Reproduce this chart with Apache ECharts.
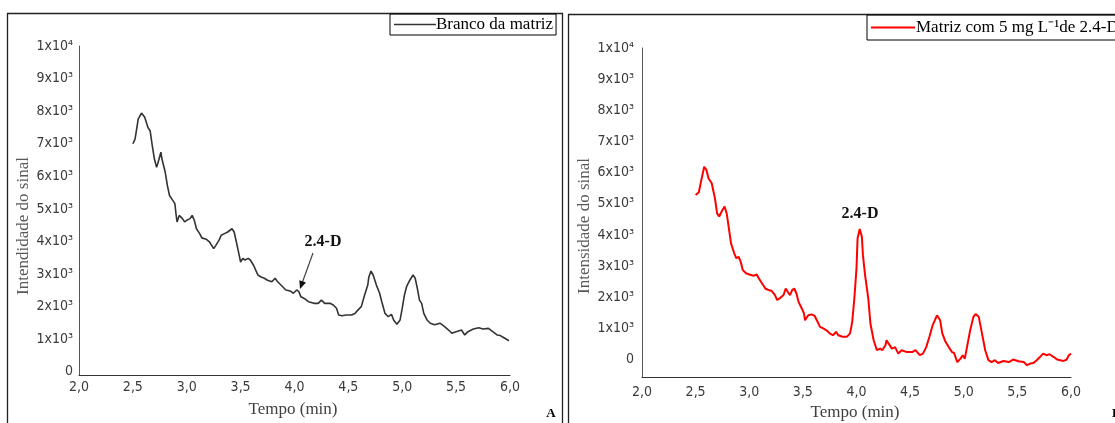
<!DOCTYPE html>
<html lang="pt">
<head>
    <meta charset="UTF-8">
    <title>Cromatogramas 2.4-D</title>
    <script src="https://cdn.jsdelivr.net/npm/echarts@6/dist/echarts.min.js"></script>
    <style>
        html, body { margin: 0; padding: 0; background: #fff; }
        #main { width: 1115px; height: 423px; }
    </style>
</head>
<body>
<div id="main"></div>
<script type="text/javascript">

    // eixo x (min) e rótulos do eixo y
    var xTicks = [2.0, 2.5, 3.0, 3.5, 4.0, 4.5, 5.0, 5.5, 6.0];
    var yTicks = [0, 1000, 2000, 3000, 4000, 5000, 6000, 7000, 8000, 9000, 10000];

    // A - Branco da matriz
    var tempoA = [2.50, 2.52, 2.55, 2.58, 2.61, 2.64, 2.66, 2.68, 2.70, 2.72, 2.73, 2.76, 2.77, 2.80, 2.82, 2.84,
        2.87, 2.89, 2.90, 2.91, 2.93, 2.96, 2.98, 3.00, 3.03, 3.05, 3.07, 3.09, 3.12, 3.14, 3.18, 3.21, 3.25, 3.27,
        3.30, 3.32, 3.35, 3.38, 3.42, 3.44, 3.46, 3.48, 3.50, 3.52, 3.54, 3.57, 3.59, 3.62, 3.64, 3.66, 3.69, 3.72,
        3.75, 3.79, 3.82, 3.84, 3.86, 3.89, 3.92, 3.96, 3.99, 4.02, 4.04, 4.06, 4.09, 4.13, 4.18, 4.22, 4.25, 4.28,
        4.33, 4.36, 4.39, 4.41, 4.44, 4.48, 4.53, 4.56, 4.59, 4.62, 4.65, 4.68, 4.69, 4.71, 4.73, 4.76, 4.79, 4.81,
        4.84, 4.87, 4.90, 4.92, 4.95, 4.98, 5.00, 5.02, 5.04, 5.07, 5.10, 5.12, 5.14, 5.16, 5.18, 5.20, 5.23, 5.26,
        5.30, 5.35, 5.39, 5.43, 5.46, 5.50, 5.55, 5.58, 5.61, 5.66, 5.71, 5.75, 5.80, 5.84, 5.88, 5.91, 5.94, 5.99];
    var sinalA = [7000, 7140, 7760, 7940, 7810, 7500, 7400, 6940, 6530, 6280, 6380, 6740, 6530, 6130, 5720, 5410,
        5260, 5160, 4850, 4600, 4800, 4700, 4600, 4650, 4700, 4800, 4650, 4390, 4240, 4110, 4070, 3990, 3780, 3880,
        4040, 4190, 4240, 4290, 4390, 4290, 3990, 3680, 3370, 3480, 3430, 3480, 3430, 3270, 3120, 2970, 2910, 2870,
        2810, 2760, 2870, 2780, 2710, 2610, 2510, 2480, 2410, 2510, 2460, 2300, 2250, 2150, 2100, 2100, 2200, 2100,
        2100, 2050, 1950, 1740, 1720, 1740, 1740, 1790, 1900, 2000, 2350, 2660, 2910, 3090, 2970, 2660, 2410, 2150,
        1790, 1690, 1760, 1590, 1460, 1590, 1950, 2350, 2610, 2810, 2970, 2870, 2560, 2200, 2100, 1790, 1590, 1490,
        1440, 1490, 1390, 1280, 1180, 1230, 1280, 1130, 1230, 1310, 1350, 1310, 1330, 1230, 1130, 1110, 1050, 950];

    // B - Matriz com 5 mg/L de 2.4-D
    var tempoB = [2.50, 2.53, 2.55, 2.58, 2.60, 2.62, 2.65, 2.68, 2.70, 2.72, 2.75, 2.77, 2.79, 2.81, 2.83, 2.86,
        2.88, 2.90, 2.92, 2.94, 2.97, 3.00, 3.04, 3.07, 3.09, 3.12, 3.15, 3.18, 3.21, 3.24, 3.26, 3.29, 3.32, 3.34,
        3.36, 3.38, 3.40, 3.42, 3.44, 3.46, 3.49, 3.51, 3.52, 3.55, 3.58, 3.61, 3.63, 3.66, 3.69, 3.72, 3.75, 3.78,
        3.81, 3.83, 3.87, 3.91, 3.94, 3.96, 3.98, 4.00, 4.01, 4.03, 4.05, 4.06, 4.08, 4.11, 4.13, 4.16, 4.19, 4.22,
        4.24, 4.27, 4.28, 4.30, 4.33, 4.36, 4.39, 4.42, 4.47, 4.52, 4.55, 4.59, 4.62, 4.65, 4.68, 4.71, 4.75, 4.78,
        4.80, 4.83, 4.86, 4.89, 4.91, 4.94, 4.97, 4.99, 5.01, 5.03, 5.06, 5.09, 5.11, 5.14, 5.17, 5.20, 5.23, 5.26,
        5.29, 5.32, 5.37, 5.42, 5.46, 5.51, 5.56, 5.59, 5.62, 5.65, 5.68, 5.71, 5.74, 5.77, 5.80, 5.84, 5.87, 5.90,
        5.93, 5.96, 5.98, 6.00];
    var sinalB = [5280, 5370, 5710, 6190, 6090, 5820, 5660, 5180, 4690, 4590, 4800, 4910, 4690, 4210, 3730, 3410,
        3250, 3300, 3140, 2870, 2770, 2730, 2690, 2730, 2600, 2440, 2280, 2230, 2200, 2070, 1910, 1980, 2070, 2280,
        2170, 2070, 2230, 2280, 2120, 1850, 1640, 1480, 1260, 1420, 1450, 1400, 1260, 1050, 1000, 940, 840, 780,
        890, 780, 730, 730, 840, 1210, 1960, 2930, 3890, 4190, 3940, 3350, 2710, 1960, 1150, 620, 300, 350,
        300, 460, 620, 510, 350, 400, 190, 300, 240, 240, 300, 140, 190, 400, 730, 1100, 1420, 1260,
        840, 570, 400, 240, 210, -80, 30, 140, 30, 400, 940, 1370, 1460, 1370, 840, 300, -20, -80,
        -20, -110, -45, -80, 0, -55, -80, -180, -130, -110, -20, 80, 190, 140, 170, 80, 0, -20,
        -45, 0, 140, 190];

    function pares(t, v) {
        return t.map(function (x, i) { return [x, v[i]]; });
    }

    var supDigits = { 3: '\u00b3', 4: '\u2074' };
    function yLabel(v) {
        if (v === 0) return '0';
        if (v >= 10000) return '1x10' + supDigits[4];
        return (v / 1000) + 'x10' + supDigits[3];
    }
    function xLabel(v) {
        return v.toFixed(1).replace('.', ',');
    }

    var tickFont = { fontFamily: 'DejaVu Sans Condensed', fontSize: 14, color: '#3a3a3a' };
    var serif = 'Liberation Serif';

    function xAxisCfg(gi, margin) {
        return {
            type: 'value', gridIndex: gi, min: 2, max: 6, interval: 0.5,
            axisLine: { onZero: false, lineStyle: { color: '#333', width: 1 } },
            axisTick: { show: false },
            splitLine: { show: false },
            axisLabel: Object.assign({ formatter: xLabel, margin: margin, customValues: xTicks }, tickFont)
        };
    }
    function yAxisCfg(gi, min, margin) {
        return {
            type: 'value', gridIndex: gi, min: min, max: 10000,
            axisLine: { show: true, onZero: false, lineStyle: { color: '#555', width: 1 } },
            axisTick: { show: false },
            splitLine: { show: false },
            axisLabel: Object.assign({ formatter: yLabel, margin: margin, customValues: yTicks }, tickFont)
        };
    }

    var myChart = echarts.init(document.getElementById('main'), null, { renderer: 'canvas' });

    var option = {
        animation: false,
        backgroundColor: '#fff',
        grid: [
            { left: 79, right: 605, top: 46, bottom: 48 },
            { left: 642, right: 44, top: 48, bottom: 46 }
        ],
        xAxis: [xAxisCfg(0, 5), xAxisCfg(1, 8)],
        yAxis: [yAxisCfg(0, -100, 6), yAxisCfg(1, -560, 8)],
        legend: [
            {
                data: ['Branco da matriz'], left: 390, top: 14,
                icon: 'rect', itemWidth: 42, itemHeight: 1.5, itemGap: 0,
                padding: [2, 3, 2, 4], borderColor: '#000', borderWidth: 1, borderRadius: 0,
                textStyle: { fontFamily: serif, fontSize: 17, color: '#000', padding: [0, 0, 0, -5] }
            },
            {
                data: ['Matriz com 5 mg L\u207b\u00b9de 2.4-D'], left: 867, top: 15,
                icon: 'rect', itemWidth: 44, itemHeight: 2, itemGap: 0,
                padding: [4, 4, 4, 4], borderColor: '#000', borderWidth: 1, borderRadius: 0,
                textStyle: { fontFamily: serif, fontSize: 17, color: '#000', padding: [0, 0, 0, -4] }
            }
        ],
        series: [
            {
                name: 'Branco da matriz', type: 'line', xAxisIndex: 0, yAxisIndex: 0,
                showSymbol: false, data: pares(tempoA, sinalA),
                lineStyle: { color: '#333333', width: 1.6 }, itemStyle: { color: '#333333' }
            },
            {
                name: 'Matriz com 5 mg L\u207b\u00b9de 2.4-D', type: 'line', xAxisIndex: 1, yAxisIndex: 1,
                showSymbol: false, data: pares(tempoB, sinalB),
                lineStyle: { color: '#ff0000', width: 2 }, itemStyle: { color: '#ff0000' }
            }
        ],
        graphic: [
            // molduras dos painéis
            { type: 'rect', shape: { x: 7.5, y: 13.5, width: 555, height: 430 }, style: { fill: null, stroke: '#222', lineWidth: 1.3 }, z: 0 },
            { type: 'rect', shape: { x: 568.5, y: 14.5, width: 560, height: 430 }, style: { fill: null, stroke: '#222', lineWidth: 1.3 }, z: 0 },
            // títulos dos eixos
            { type: 'text', x: 24, y: 226, rotation: Math.PI / 2, style: { text: 'Intendidade do sinal', fontFamily: serif, fontSize: 17, fill: '#595959', align: 'center', verticalAlign: 'middle' } },
            { type: 'text', x: 585, y: 226, rotation: Math.PI / 2, style: { text: 'Intensidade do sinal', fontFamily: serif, fontSize: 17, fill: '#595959', align: 'center', verticalAlign: 'middle' } },
            { type: 'text', x: 293, y: 410, style: { text: 'Tempo (min)', fontFamily: serif, fontSize: 17, fill: '#404040', align: 'center', verticalAlign: 'middle' } },
            { type: 'text', x: 855, y: 413, style: { text: 'Tempo (min)', fontFamily: serif, fontSize: 17, fill: '#404040', align: 'center', verticalAlign: 'middle' } },
            // letras dos painéis
            { type: 'text', x: 551, y: 414, style: { text: 'A', fontFamily: serif, fontSize: 13, fontWeight: 'bold', fill: '#000', align: 'center', verticalAlign: 'middle' } },
            { type: 'text', x: 1112, y: 414, style: { text: 'B', fontFamily: serif, fontSize: 13, fontWeight: 'bold', fill: '#000', align: 'left', verticalAlign: 'middle' } },
            // anotações 2.4-D
            { type: 'text', x: 323, y: 242, style: { text: '2.4-D', fontFamily: serif, fontSize: 16, fontWeight: 'bold', fill: '#111', align: 'center', verticalAlign: 'middle' } },
            { type: 'line', shape: { x1: 313, y1: 253, x2: 302.5, y2: 282 }, style: { stroke: '#444', lineWidth: 1.2 } },
            { type: 'polygon', shape: { points: [[300, 289], [306, 282.5], [299.3, 280.3]] }, style: { fill: '#111' } },
            { type: 'text', x: 860, y: 214, style: { text: '2.4-D', fontFamily: serif, fontSize: 16, fontWeight: 'bold', fill: '#111', align: 'center', verticalAlign: 'middle' } }
        ]
    };

    myChart.setOption(option);

</script>
</body>
</html>
